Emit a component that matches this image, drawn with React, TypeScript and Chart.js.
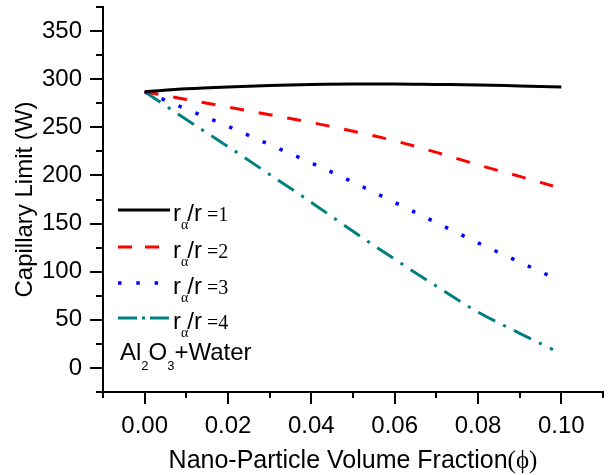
import React, { useEffect, useRef } from "react";
import { Chart, registerables } from "chart.js";

Chart.register(...registerables);

// ---- Data ----
const phiR1 = [0, 0.01, 0.02, 0.03, 0.04, 0.05, 0.06, 0.07, 0.08, 0.09, 0.1];
const capR1 = [287, 290, 292, 293.5, 294.5, 295, 295, 294.5, 294, 293, 292];

const phiOthers = [0, 0.01, 0.02, 0.03, 0.04, 0.05, 0.06, 0.07, 0.08, 0.09, 0.098];
const capR2 = [287, 279, 271, 263, 255, 246, 236, 224, 211, 199, 189];
const capR3 = [287, 269, 251, 232, 213, 193, 172, 151, 130, 110, 94];
const capR4 = [287, 258, 230, 201, 172, 142, 113, 85, 58, 36, 19];

const ratioValues = ["1", "2", "3", "4"];
const seriesColors = ["#000000", "#ff0000", "#0000ff", "#008080"];

const xMajorTicks = [0, 0.02, 0.04, 0.06, 0.08, 0.1];
const xMinorTicks = [-0.01, 0.01, 0.03, 0.05, 0.07, 0.09, 0.11];
const yMajorTicks = [0, 50, 100, 150, 200, 250, 300, 350];
const yMinorTicks = [-25, 25, 75, 125, 175, 225, 275, 325, 375];

const xTitleMain = "Nano-Particle Volume Fraction";
const xTitleSymbol = "(\u03D5)";
const yTitle = "Capillary Limit (W)";
const fluidParts = ["Al", "2", "O", "3", "+Water"];

const SANS = "'Liberation Sans', Arial, sans-serif";
const SERIF = "'Liberation Serif', 'Times New Roman', serif";

// styles
const plotDashes = [[], [14, 15], [3.5, 14.8], [19, 9, 3, 9]];
const legendDashes = [[], [14, 13], [3.5, 14.8], [19, 5, 3, 5]];
const lineWidths = [3, 3, 3.5, 3];

const decorPlugin = {
  id: "decor",
  afterDraw(chart: any) {
    const { ctx, chartArea, scales } = chart;
    const xs = scales.x;
    const ys = scales.y;
    ctx.save();
    ctx.strokeStyle = "#000";
    ctx.lineWidth = 2;
    ctx.setLineDash([]);
    ctx.beginPath();
    for (const v of yMajorTicks) {
      const py = Math.round(ys.getPixelForValue(v));
      ctx.moveTo(chartArea.left - 13, py);
      ctx.lineTo(chartArea.left, py);
    }
    for (const v of yMinorTicks) {
      const py = Math.round(ys.getPixelForValue(v));
      ctx.moveTo(chartArea.left - 7, py);
      ctx.lineTo(chartArea.left, py);
    }
    for (const v of xMajorTicks) {
      const px = Math.round(xs.getPixelForValue(v));
      ctx.moveTo(px, chartArea.bottom);
      ctx.lineTo(px, chartArea.bottom + 12);
    }
    for (const v of xMinorTicks) {
      const px = Math.round(xs.getPixelForValue(v));
      ctx.moveTo(px, chartArea.bottom);
      ctx.lineTo(px, chartArea.bottom + 6);
    }
    ctx.stroke();

    ctx.fillStyle = "#000";
    ctx.textBaseline = "alphabetic";
    ctx.textAlign = "left";

    // x title (mixed fonts)
    ctx.font = `25px ${SANS}`;
    const w1 = ctx.measureText(xTitleMain).width;
    ctx.font = `25px ${SERIF}`;
    const w2 = ctx.measureText(xTitleSymbol).width;
    const cx = (chartArea.left + chartArea.right) / 2;
    const tx = cx - (w1 + w2) / 2;
    const tb = chartArea.bottom + 76;
    ctx.font = `25px ${SANS}`;
    ctx.fillText(xTitleMain, tx, tb);
    ctx.font = `25px ${SERIF}`;
    ctx.fillText(xTitleSymbol, tx + w1, tb);

    // legend
    const lx0 = chartArea.left + 15;
    const lx1 = chartArea.left + 67;
    const rows = [203, 240, 276, 311];
    ratioValues.forEach((val, i) => {
      const y = chartArea.top + rows[i];
      ctx.save();
      ctx.strokeStyle = seriesColors[i];
      ctx.lineWidth = lineWidths[i];
      ctx.setLineDash(legendDashes[i]);
      ctx.beginPath();
      ctx.moveTo(lx0, y);
      ctx.lineTo(lx1, y);
      ctx.stroke();
      ctx.restore();

      let x = lx1 + 3;
      const base = y + 11;
      ctx.font = `24px ${SANS}`;
      ctx.fillText("r", x, base);
      x += ctx.measureText("r").width;
      ctx.font = `14px ${SERIF}`;
      ctx.fillText("\u03B1", x, base + 8);
      x += ctx.measureText("\u03B1").width - 1;
      ctx.font = `24px ${SANS}`;
      ctx.fillText("/r", x, base);
      x += ctx.measureText("/r").width;
      ctx.font = `20px ${SERIF}`;
      ctx.fillText(" =" + val, x, base);
    });

    // fluid label
    let fx = chartArea.left + 17;
    const fb = chartArea.top + 353;
    fluidParts.forEach((p, i) => {
      const sub = i === 1 || i === 3;
      ctx.font = sub ? `13px ${SANS}` : `24px ${SANS}`;
      ctx.fillText(p, fx, sub ? fb + 10 : fb);
      fx += ctx.measureText(p).width;
    });
    ctx.restore();
  },
};

export default function App() {
  const canvasRef = useRef<HTMLCanvasElement | null>(null);

  useEffect(() => {
    if (!canvasRef.current) return;
    const seriesX = [phiR1, phiOthers, phiOthers, phiOthers];
    const seriesY = [capR1, capR2, capR3, capR4];
    const datasets = seriesY.map((ys, i) => ({
      label: "r\u03B1/r =" + ratioValues[i],
      data: ys.map((y, j) => ({ x: seriesX[i][j], y })),
      borderColor: seriesColors[i],
      backgroundColor: seriesColors[i],
      borderWidth: lineWidths[i],
      borderDash: plotDashes[i],
      pointRadius: 0,
      fill: false,
      cubicInterpolationMode: "monotone" as const,
    }));

    const chart = new Chart(canvasRef.current, {
      type: "line",
      data: { datasets },
      options: {
        responsive: true,
        maintainAspectRatio: false,
        animation: false,
        plugins: { legend: { display: false }, tooltip: { enabled: false } },
        layout: { padding: { left: 0, right: 6, top: 7, bottom: 0 } },
        scales: {
          x: {
            type: "linear",
            min: -0.01,
            max: 0.11,
            afterFit: (s: any) => {
              s.height = 83;
              s.paddingLeft = 0;
              s.paddingRight = 0;
            },
            afterBuildTicks: (s: any) => {
              s.ticks = xMajorTicks.map((v) => ({ value: v }));
            },
            grid: { display: false, drawTicks: false },
            border: { display: true, color: "#000", width: 2 },
            ticks: {
              color: "#000",
              font: { family: SANS, size: 24 },
              padding: 20,
              maxRotation: 0,
              autoSkip: false,
              callback: (v: any) => Number(v).toFixed(2),
            },
            title: { display: false },
          },
          y: {
            type: "linear",
            min: -25,
            max: 375,
            afterFit: (s: any) => {
              s.width = 103;
              s.paddingTop = 0;
              s.paddingBottom = 0;
            },
            afterBuildTicks: (s: any) => {
              s.ticks = yMajorTicks.map((v) => ({ value: v }));
            },
            grid: { display: false, drawTicks: false },
            border: { display: true, color: "#000", width: 2 },
            ticks: {
              color: "#000",
              font: { family: SANS, size: 24 },
              padding: 21,
              autoSkip: false,
              callback: (v: any) => String(v),
            },
            title: {
              display: true,
              text: yTitle,
              color: "#000",
              font: { family: SANS, size: 24 },
              padding: { top: 11, bottom: 0 },
            },
          },
        },
      },
      plugins: [decorPlugin],
    });
    return () => chart.destroy();
  }, []);

  return (
    <div style={{ position: "absolute", left: 0, top: 0, width: 609, height: 475, background: "#fff" }}>
      <canvas ref={canvasRef} />
    </div>
  );
}
